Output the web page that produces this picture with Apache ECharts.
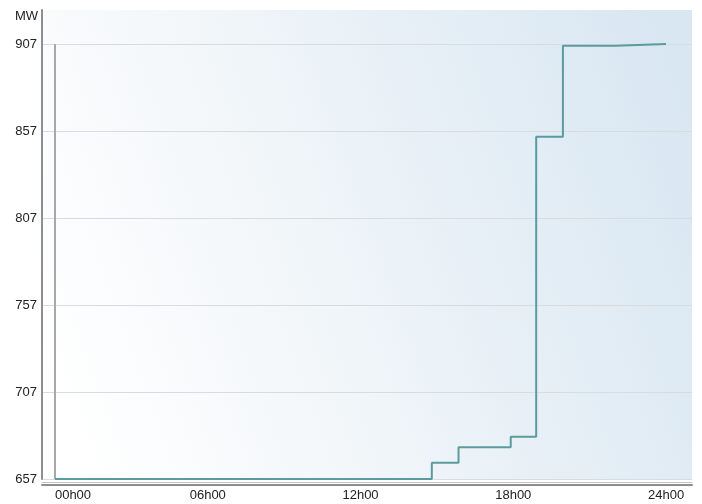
<!DOCTYPE html>
<html>
<head>
<meta charset="utf-8">
<script src="https://cdn.jsdelivr.net/npm/echarts@6/dist/echarts.min.js"></script>
<style>
html,body{margin:0;padding:0;background:#fff;}
#c{width:702px;height:504px;}
</style>
</head>
<body>
<div id="c"></div>
<script>
// Data (hours of day, MW) — step starts
const hours = [0, 14.8, 15.85, 17.9, 18.9, 19.95, 22, 24];
const mw = [657, 666.4, 675.2, 681.3, 853.7, 906, 907, 907];
const xTickHours = [0, 6, 12, 18, 24];
const yTicks = [657, 707, 757, 807, 857, 907];
const unitName = 'MW';

const chart = echarts.init(document.getElementById('c'), null, {renderer: 'canvas'});
const fontFamily = '"Liberation Sans", Arial, sans-serif';
const pad2 = h => (h < 10 ? '0' : '') + h;

chart.setOption({
  animation: false,
  backgroundColor: '#ffffff',
  grid: {
    left: 42, right: 10, top: 10, bottom: 25,
    show: true, borderWidth: 0,
    backgroundColor: new echarts.graphic.LinearGradient(0, 0.75, 1, 0.25, [
      {offset: 0, color: '#ffffff'},
      {offset: 0.35, color: '#f3f7fa'},
      {offset: 1, color: '#d9e7f2'}
    ])
  },
  xAxis: [{
    type: 'value', min: -0.511, max: 25.02,
    offset: 6,
    axisLine: {show: true, onZero: false, lineStyle: {color: '#8e8e8e', width: 2}},
    axisTick: {show: false},
    splitLine: {show: false},
    axisLabel: {
      customValues: xTickHours,
      margin: 4,
      color: '#222', fontSize: 13, fontFamily: fontFamily,
      formatter: v => v === 0 ? '{first|' + pad2(v) + 'h00}' : pad2(v) + 'h00',
      rich: {first: {padding: [0, 0, 0, 36], color: '#222', fontSize: 13, fontFamily: fontFamily}}
    }
  }, {
    type: 'value', min: -0.511, max: 25.02,
    position: 'bottom', offset: 3,
    axisLine: {show: true, onZero: false, lineStyle: {color: '#c4c4c4', width: 1}},
    axisTick: {show: false}, axisLabel: {show: false}, splitLine: {show: false}
  }],
  yAxis: {
    type: 'value', min: yTicks[0], max: 926.5, interval: 50,
    name: unitName, nameLocation: 'end', nameGap: -13,
    nameTextStyle: {align: 'right', verticalAlign: 'bottom', padding: [0, 4, 0, 0], color: '#222', fontSize: 13, fontFamily: fontFamily},
    axisLine: {show: true, onZero: false, lineStyle: {color: '#8e8e8e', width: 2}},
    axisTick: {show: false},
    axisLabel: {showMaxLabel: false, margin: 5, color: '#222', fontSize: 13, fontFamily: fontFamily},
    splitLine: {show: true, showMaxLine: false, lineStyle: {color: '#d9dcdf', width: 1}}
  },
  series: [{
    type: 'line', xAxisIndex: 0,
    step: 'end',
    data: hours.map((h, i) => [h, mw[i]]),
    showSymbol: false,
    lineStyle: {color: '#5b9b9e', width: 2},
    markLine: {
      silent: true, symbol: 'none', label: {show: false},
      lineStyle: {color: '#a8a8a8', width: 2, type: 'solid'},
      data: [[{coord: [xTickHours[0], yTicks[0]]}, {coord: [xTickHours[0], yTicks[yTicks.length - 1]]}]]
    },
    z: 5
  }]
});
</script>
</body>
</html>
